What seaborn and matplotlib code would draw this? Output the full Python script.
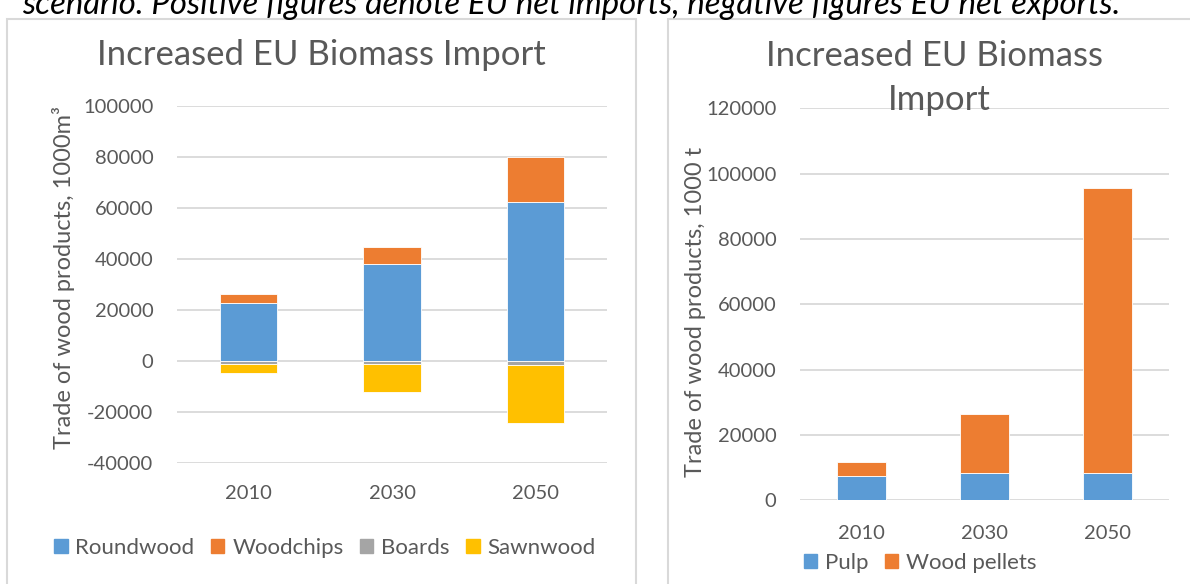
import numpy as np
import pandas as pd
import matplotlib.pyplot as plt
import seaborn as sns
from matplotlib.patches import Patch, Rectangle

# ─── DATA ───────────────────────────────────────────────
years = ["2010", "2030", "2050"]

# left chart, 1000 m3
roundwood = [22600, 37900, 62200]
woodchips = [3800, 6900, 17900]
boards = [-1000, -1300, -1600]
sawnwood = [-3700, -10850, -22600]

# right chart, 1000 t
pulp = [7350, 8260, 8260]
pellets = [4380, 18170, 87350]

# ─── STYLE ──────────────────────────────────────────────
sns.set_theme(style="white")
plt.rcParams["font.family"] = ["Lato", "DejaVu Sans"]
plt.rcParams["axes.unicode_minus"] = False

BLUE, ORANGE, GREY, YELLOW = "#5B9BD5", "#ED7D31", "#A5A5A5", "#FFC000"
TXT = "#595959"
GRID = "#D9D9D9"

W, H = 1190, 584
fig = plt.figure(figsize=(W / 100, H / 100), dpi=100)

def px(x0, y0, x1, y1):
    # pixel box (top-left origin) -> figure fraction rect
    return [x0 / W, 1 - y1 / H, (x1 - x0) / W, (y1 - y0) / H]

# panel frames
for x0, x1 in [(7, 636), (668, 1200)]:
    fig.patches.append(Rectangle((x0 / W, -0.05), (x1 - x0) / W, 1.05 - 19 / H,
                                 transform=fig.transFigure, fill=False,
                                 edgecolor=GRID, lw=1.5))

fig.text(22 / W, 1 - 14 / H,
         "scenario. Positive figures denote EU net imports, negative figures EU net exports.",
         style="italic", fontsize=23.7, color="black", va="baseline", ha="left")

ax1 = fig.add_axes(px(177, 106, 607, 463))
ax2 = fig.add_axes(px(800, 108.4, 1169, 500.3))

bar_kw = dict(width=0.4, errorbar=None, saturation=1, edgecolor="white", linewidth=0.6)

# ─── LEFT: stacked, negatives below zero ────────────────
sns.barplot(x=years, y=roundwood, color=BLUE, ax=ax1, **bar_kw)
sns.barplot(x=years, y=woodchips, bottom=roundwood, color=ORANGE, ax=ax1, **bar_kw)
sns.barplot(x=years, y=boards, color=GREY, ax=ax1, **bar_kw)
sns.barplot(x=years, y=sawnwood, bottom=boards, color=YELLOW, ax=ax1, **bar_kw)
ax1.set_ylim(-40000, 100000)
ax1.set_yticks(np.arange(-40000, 100001, 20000))
ax1.set_ylabel("Trade of wood products, 1000m³", fontsize=17, color=TXT)
ax1.yaxis.set_label_coords(-0.237, 0.52)

# ─── RIGHT ──────────────────────────────────────────────
sns.barplot(x=years, y=pulp, color=BLUE, ax=ax2, **bar_kw)
sns.barplot(x=years, y=pellets, bottom=pulp, color=ORANGE, ax=ax2, **bar_kw)
ax2.set_ylim(0, 120000)
ax2.set_yticks(np.arange(0, 120001, 20000))
ax2.set_ylabel("Trade of wood products, 1000 t", fontsize=17, color=TXT)
ax2.yaxis.set_label_coords(-0.255, 0.48)

for ax, xpad in [(ax1, 16), (ax2, 18)]:
    ax.set_xlim(-0.5, 2.5)
    sns.despine(ax=ax, left=True, bottom=True)
    ax.yaxis.grid(True, color=GRID, lw=1.3)
    ax.set_axisbelow(True)
    ax.tick_params(axis="y", length=0, pad=17, labelsize=14.5, labelcolor=TXT)
    ax.tick_params(axis="x", length=0, pad=xpad, labelsize=14.5, labelcolor=TXT)
    ax.set_xlabel("")

# titles (right one wraps onto two lines)
fig.text(321 / W, 1 - 55 / H, "Increased EU Biomass Import", fontsize=25,
         color=TXT, ha="center", va="center")
fig.text(934 / W, 1 - 56 / H, "Increased EU Biomass", fontsize=25,
         color=TXT, ha="center", va="center")
fig.text(939 / W, 1 - 100 / H, "Import", fontsize=25,
         color=TXT, ha="center", va="center")

# legends
leg_kw = dict(loc="center", ncol=4, frameon=False, fontsize=16, labelcolor=TXT,
              handlelength=0.6, handleheight=0.6, handletextpad=0.35,
              columnspacing=0.75)
fig.legend(handles=[Patch(color=c, label=l) for c, l in
                    [(BLUE, "Roundwood"), (ORANGE, "Woodchips"),
                     (GREY, "Boards"), (YELLOW, "Sawnwood")]],
           bbox_to_anchor=(325 / W, 1 - 548 / H), **leg_kw)
fig.legend(handles=[Patch(color=c, label=l) for c, l in
                    [(BLUE, "Pulp"), (ORANGE, "Wood pellets")]],
           bbox_to_anchor=(920 / W, 1 - 563 / H), **leg_kw)

fig.savefig("out.png", dpi=100)
